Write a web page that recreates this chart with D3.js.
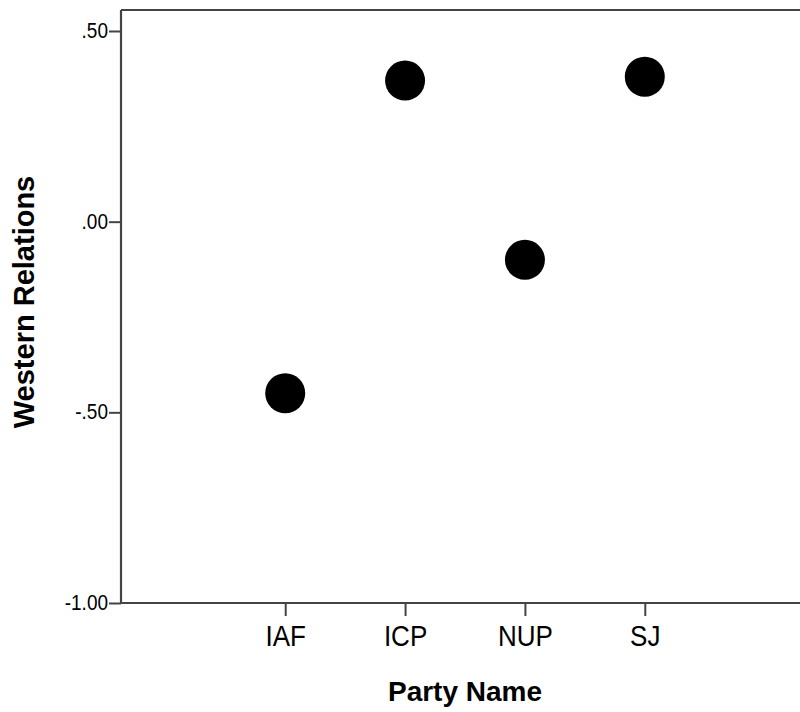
<!DOCTYPE html>
<html>
<head>
<meta charset="utf-8">
<script src="https://cdn.jsdelivr.net/npm/d3@7"></script>
<style>
  html, body { margin: 0; padding: 0; background: #fff; }
  svg { display: block; }
  text { font-family: Arial, "Liberation Sans", sans-serif; }
</style>
</head>
<body>
<svg id="chart" width="800" height="712"></svg>
<script>
const categories = ["IAF", "ICP", "NUP", "SJ"];
const values = [-0.45, 0.37, -0.10, 0.38];
const yTicks = [0.5, 0, -0.5, -1.0];
const yTickLabels = [".50", ".00", "-.50", "-1.00"];
const xTitle = "Party Name";
const yTitle = "Western Relations";

const svg = d3.select("#chart");
const mLeft = 121, mTop = 10, mBottom = 603, mRight = 809;

const x = d3.scalePoint().domain(categories).range([mLeft, mRight]).padding(1.37);
const y = d3.scaleLinear().domain([-1.0, 0.5]).range([mBottom, 31]);

const axisColor = "#444";

// top frame line
svg.append("line")
  .attr("x1", mLeft).attr("x2", mRight)
  .attr("y1", mTop).attr("y2", mTop)
  .attr("stroke", axisColor).attr("stroke-width", 2.2);

// y axis
const yAxis = svg.append("g")
  .attr("transform", `translate(${mLeft},0)`)
  .call(d3.axisLeft(y).tickValues(yTicks)
    .tickFormat((d, i) => yTickLabels[i])
    .tickSize(12).tickPadding(1).tickSizeOuter(0));
yAxis.select(".domain").remove();
yAxis.append("line").attr("x1", 0).attr("x2", 0).attr("y1", mTop).attr("y2", mBottom)
  .attr("stroke", axisColor).attr("stroke-width", 2.2);
yAxis.selectAll(".tick line").attr("stroke", axisColor).attr("stroke-width", 2);
yAxis.selectAll(".tick text").attr("fill", "#000").attr("font-size", 19)
  .attr("transform", "scale(1,1.15)").attr("dy", "0.3em")
  .style("font-family", "Arial, 'Liberation Sans', sans-serif");

// x axis
const xAxis = svg.append("g")
  .attr("transform", `translate(0,${mBottom})`)
  .call(d3.axisBottom(x).tickSize(13).tickPadding(8).tickSizeOuter(0));
xAxis.select(".domain").remove();
xAxis.append("line").attr("x1", mLeft).attr("x2", mRight).attr("y1", 0).attr("y2", 0)
  .attr("stroke", axisColor).attr("stroke-width", 2.2);
xAxis.selectAll(".tick line").attr("stroke", axisColor).attr("stroke-width", 2);
xAxis.selectAll(".tick text").attr("fill", "#000").attr("font-size", 26)
  .attr("transform", "scale(1,1.1)")
  .style("font-family", "Arial, 'Liberation Sans', sans-serif");

// points
svg.append("g").selectAll("circle")
  .data(categories.map((c, i) => ({c, v: values[i]})))
  .join("circle")
  .attr("cx", d => x(d.c))
  .attr("cy", d => y(d.v))
  .attr("r", 20)
  .attr("fill", "#000");

// titles
svg.append("text")
  .attr("x", (mLeft + mRight) / 2).attr("y", 701)
  .attr("text-anchor", "middle")
  .attr("font-size", 28).attr("font-weight", "bold")
  .text(xTitle);

svg.append("text")
  .attr("transform", `translate(34,302) rotate(-90)`)
  .attr("text-anchor", "middle")
  .attr("font-size", 29).attr("font-weight", "bold")
  .text(yTitle);
</script>
</body>
</html>
